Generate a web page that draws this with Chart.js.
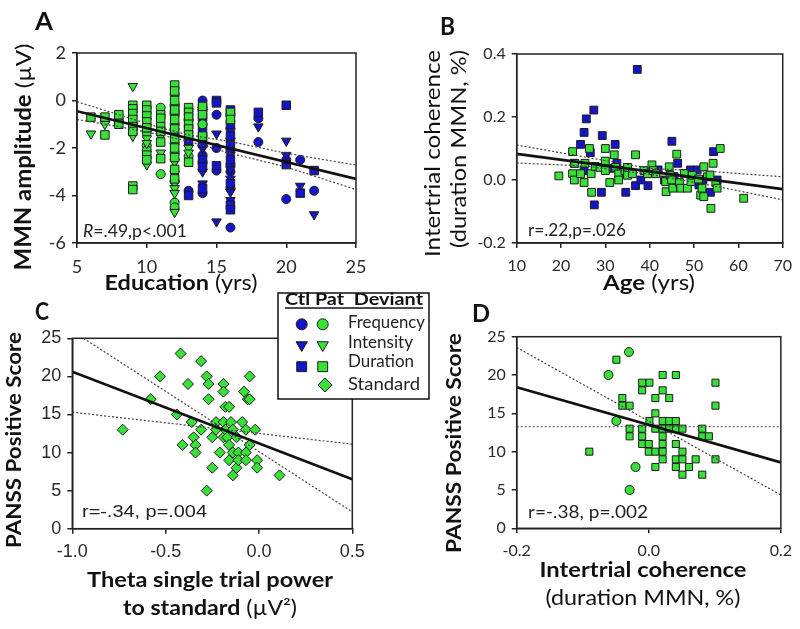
<!DOCTYPE html>
<html>
<head>
<meta charset="utf-8">
<script src="https://cdn.jsdelivr.net/npm/chart.js@4.4.1/dist/chart.umd.min.js"></script>
<style>
  body { margin: 0; background: #fff; }
  #wrap { position: relative; width: 800px; height: 629px; overflow: hidden; background: #fff; }
  canvas { position: absolute; }
</style>
</head>
<body>
<div id="wrap">
  <canvas id="cA" width="400" height="315" style="left:0;top:0"></canvas>
  <canvas id="cB" width="400" height="315" style="left:400px;top:0"></canvas>
  <canvas id="cD" width="400" height="329" style="left:400px;top:300px"></canvas>
  <canvas id="cC" width="440" height="344" style="left:0;top:285px"></canvas>
</div>
<script>
// ---- Panel A: MMN amplitude (uV) vs education (yrs), [x, y]
const aPatDur = [[6,-0.7],[7,-0.7],[7,-1.45],[8,-0.6],[8,-1.0],[9,-0.2],[9,-0.35],[9,-0.55],[9,-0.8],[9,-1.1],[9,-1.3],[9,-3.6],[9,-3.75],
  [10,-0.2],[10,-0.4],[10,-0.65],[10,-0.9],[10,-1.15],[10,-2.3],[10,-2.5],[11,-0.6],[11,-0.75],[11,-1.1],[11,-1.3],[11,-1.75],[11,-2.45],
  [12,0.65],[12,0.4],[12,0],[12,-0.4],[12,-0.8],[12,-1.2],[12,-1.6],[12,-2.0],[12,-2.4],[12,-2.9],[12,-3.3],
  [13,-0.3],[13,-0.5],[13,-0.7],[13,-1.0],[13,-1.2],[13,-1.45],[13,-2.6],[14,-0.25],[14,-0.6],[14,-1.5],[16,-0.5],[16,-0.8]];
const aPatFreq = [[7,-0.85],[8,-0.85],[9,-0.95],[9,-1.2],[10,-1.35],[10,-1.9],[10,-2.1],[11,-0.3],[11,-3.1],[12,0.25],[12,-0.2],[12,-0.6],
  [12,-1.0],[12,-1.4],[12,-1.8],[12,-2.2],[12,-4.3],[12,-4.5],[13,-2.35],[14,-1.0]];
const aPatInt = [[6,-1.4],[7,-1.0],[9,0.6],[9,-1.5],[10,-1.6],[10,-1.8],[10,-2.7],[11,-1.5],[11,-2.2],[12,-2.6],[12,-3.1],[12,-3.5],
  [12,-3.7],[12,-3.9],[12,-4.7],[13,-2.0],[13,-2.2],[14,-0.4]];
const aCtlFreq = [[12,-0.5],[12,-3.4],[13,-0.8],[13,-3.8],[14,0],[14,-1.0],[14,-1.5],[14,-1.9],[14,-2.3],[14,-2.6],[14,-3.9],[15,-0.6],[15,-2.0],
  [15,-2.95],[16,-0.6],[16,-1.2],[16,-2.1],[16,-2.7],[16,-3.0],[16,-3.7],[16,-5.35],[18,-0.75],[18,-1.75],[20,-2.5],[20,-4.15],[21,-2.5],[22,-3.8]];
const aCtlInt = [[12,-1.3],[14,-0.5],[14,-2.0],[14,-3.0],[14,-3.5],[15,-1.4],[15,-5.1],[16,-1.7],[16,-2.3],[16,-2.9],[16,-3.3],[16,-3.85],
  [16,-4.2],[18,-1.1],[20,-1.7],[20,-2.3],[21,-3.6],[22,-4.8]];
const aCtlDur = [[12,-0.3],[13,-1.7],[13,-4.0],[14,-0.3],[14,-0.7],[14,-1.25],[14,-1.8],[14,-2.5],[14,-2.8],[14,-3.7],[15,0],[15,-0.1],
  [15,-2.75],[16,-0.4],[16,-1.0],[16,-1.5],[16,-1.9],[16,-2.5],[16,-3.5],[16,-4.4],[16,-4.6],[18,-0.5],[20,-0.2],[20,-2.7],[21,-3.9],[22,-2.95]];
const aFit = [[5,-0.45],[25,-3.3]];
const aUpper = [[5,-0.05],[8,-0.6],[11,-1.15],[13,-1.45],[16,-1.73],[20,-2.22],[25,-2.72]];
const aLower = [[5,-0.8],[8,-1.1],[11,-1.45],[13,-1.72],[16,-2.22],[20,-2.8],[25,-3.75]];

// ---- Panel B: intertrial coherence vs age
const bCtl = [[37.2,0.351],[27.4,0.222],[25.7,0.194],[25.2,0.151],[24.4,0.113],[29.3,0.141],[32.2,0.113],[45.0,0.123],[54.4,0.09],
  [26.6,0.087],[23,0.053],[32.6,0.053],[46.3,0.053],[31.1,0.037],[27.5,-0.079],[29.1,-0.039],[34.6,-0.039],[36.8,-0.018],[39.6,-0.018],
  [38.0,0.0],[49.2,0.032],[50.7,0.032],[51.1,-0.016],[53.7,-0.039],[25.2,0.03],[41.9,0.032],[45.5,0.011],[43.3,0.0],[52,0.0],[55.2,0.0]];
const bPat = [[19.5,0.013],[22.6,0.09],[23.1,0.053],[22.6,0.02],[23.0,0.0],[24.4,0.02],[25.2,-0.008],[25.4,0.053],[26.4,0.1],[26.8,0.02],
  [26.9,-0.039],[27.7,0.043],[28.8,0.04],[30,0.1],[30,0.06],[30,0.03],[31,-0.008],[32,0.08],[32.3,0.04],[33,0.02],[33,0.0],[34.4,0.03],
  [35,0.04],[35,0.015],[36.1,0.02],[36.8,0.08],[38.7,0.03],[39.5,0.02],[40.5,0.048],[40.8,0.03],[41.4,0.02],[43.6,-0.005],[43.7,-0.037],
  [44.4,0.042],[44.6,0.015],[44.9,0.0],[45.2,-0.026],[46.1,0.082],[46.7,-0.008],[47,-0.026],[47.8,0.021],[48.5,-0.026],[49.3,-0.005],
  [49.6,0.015],[51,0.003],[51.5,-0.048],[51.8,-0.026],[52.2,0.042],[52.2,-0.053],[53,0.01],[53.6,0.016],[54.3,0.053],[53.8,-0.09],
  [54.9,-0.008],[55.2,-0.026],[55.9,0.1],[61.2,-0.058]];
const bFit = [[10,0.083],[70,-0.029]];
const bUpper = [[10,0.111],[25,0.074],[40,0.037],[55,0.026],[70,0.01]];
const bLower = [[10,0.054],[25,0.045],[40,0.018],[55,-0.02],[70,-0.063]];

// ---- Panel C: PANSS positive vs theta single trial power
const cPat = [[-0.73,13],[-0.58,17],[-0.53,20],[-0.44,15],[-0.42,23],[-0.41,11],[-0.38,19],[-0.36,14],[-0.35,12],[-0.34,11],[-0.34,10],
  [-0.31,22],[-0.31,13],[-0.28,20],[-0.27,19],[-0.27,17],[-0.28,5],[-0.25,12],[-0.25,8],[-0.23,14],[-0.23,13],[-0.21,10],[-0.19,12],
  [-0.19,19],[-0.19,18],[-0.18,16],[-0.19,14],[-0.18,13],[-0.17,12],[-0.16,11],[-0.16,9],[-0.16,16],[-0.15,14],[-0.14,13],[-0.14,10],
  [-0.14,7],[-0.12,8],[-0.12,12],[-0.11,10],[-0.11,9],[-0.09,14],[-0.07,13],[-0.08,18],[-0.06,17],[-0.07,10],[-0.07,9],[-0.05,20],
  [-0.05,17],[-0.05,11],[-0.02,13],[-0.01,9],[-0.01,8],[0.11,7]];
const cFit = [[-1,20.6],[0.5,6.5]];
const cBand1 = [[-0.94,25],[0.5,2.2]];
const cBand2 = [[-1,15.3],[0.5,11.1]];

// ---- Panel D: PANSS positive vs intertrial coherence
const dPatSq = [[-0.09,10],[-0.049,22],[-0.04,17],[-0.04,16],[-0.029,16],[-0.029,13],[-0.029,12],[-0.01,19],[-0.01,18],[0.001,19],
  [-0.01,13],[-0.01,12],[-0.01,11],[0.001,14],[0.0,11],[0.0,10],[0.01,17],[0.01,15],[0.01,13],[0.01,10],[0.01,8],[0.021,20],[0.021,18],
  [0.021,14],[0.021,13],[0.021,12],[0.021,11],[0.021,10],[0.021,9],[0.031,17],[0.031,14],[0.031,13],[0.041,20],[0.041,14],[0.041,13],
  [0.041,11],[0.041,9],[0.041,8],[0.051,13],[0.051,10],[0.051,9],[0.051,7],[0.061,8],[0.071,9],[0.081,13],[0.081,12],[0.081,7],
  [0.091,12],[0.101,19],[0.101,16],[0.101,9]];
const dPatRound = [[-0.061,20],[-0.03,23],[-0.049,14],[-0.02,8],[-0.029,5]];
const dFit = [[-0.2,18.4],[0.2,8.6]];
const dBand1 = [[-0.2,23.6],[0.2,4.35]];
const dBand2 = [[-0.2,13.25],[0.2,13.25]];

const SANS = 'Lato, "Open Sans", sans-serif';
const ARIAL = '"Liberation Sans", Arial, sans-serif';
const BLUE = '#1414c8';
const GREEN = '#38e038';
const EDGE = '#1c1c1c';

function pts(arr) {
  return arr.map(p => ({ x: p[0], y: p[1] }));
}

function markers(data, color, style, radius, rotation) {
  return {
    data: pts(data), showLine: false,
    pointStyle: style, pointRadius: radius, pointHoverRadius: radius, pointRotation: rotation || 0,
    backgroundColor: color, borderColor: EDGE, borderWidth: 1
  };
}

function line(data, dotted) {
  return {
    data: pts(data), showLine: true, pointRadius: 0, fill: false,
    borderColor: dotted ? '#444' : '#111', borderWidth: dotted ? 1.2 : 2.6,
    borderDash: dotted ? [2, 2] : []
  };
}

function fontOf(p, size, fam) {
  return (p.i ? 'italic ' : '') + (p.b ? 'bold ' : '') + size + 'px ' + fam;
}

// draws mixed bold/normal text; fit squeezes it to the width seen in the reference
function drawRich(ctx, it) {
  const fam = it.family || SANS;
  ctx.save();
  ctx.translate(it.x, it.y);
  if (it.rot) ctx.rotate(-Math.PI / 2);
  let total = 0;
  const ws = it.parts.map(p => {
    ctx.font = fontOf(p, it.size, fam);
    const w = ctx.measureText(p.t).width;
    total += w;
    return w;
  });
  if (it.fit) ctx.scale(it.fit / total, 1);
  let x = it.align === 'left' ? 0 : -total / 2;
  ctx.textBaseline = it.rot ? 'middle' : 'alphabetic';
  ctx.fillStyle = it.color || '#111';
  it.parts.forEach((p, i) => {
    ctx.font = fontOf(p, it.size, fam);
    ctx.fillText(p.t, x, 0);
    x += ws[i];
  });
  ctx.restore();
}

function drawLegend(ctx) {
  ctx.save();
  ctx.fillStyle = '#fff';
  ctx.fillRect(278, 8, 151, 106);
  ctx.strokeStyle = '#111';
  ctx.lineWidth = 1.5;
  ctx.strokeRect(278, 8, 151, 106);
  drawRich(ctx, { x: 285, y: 20, align: 'left', size: 17, fit: 138, parts: [{ t: 'Ctl Pat  Deviant', b: true }] });
  ctx.beginPath();
  ctx.moveTo(285, 23); ctx.lineTo(423, 23);
  ctx.lineWidth = 1.4; ctx.strokeStyle = '#111'; ctx.stroke();
  const rows = [
    { y: 39.3, style: 'circle', r: 5.5, rot: 0, label: 'Frequency', ty: 43, fit: 77, both: true },
    { y: 60, style: 'triangle', r: 6.5, rot: 180, label: 'Intensity', ty: 63, fit: 65, both: true },
    { y: 81.7, style: 'rect', r: 7, rot: 0, label: 'Duration', ty: 82, fit: 66, both: true },
    { y: 100, style: 'rectRot', r: 7, rot: 0, label: 'Standard', ty: 105, fit: 72, both: false }
  ];
  rows.forEach(r => {
    const opt = { pointStyle: r.style, radius: r.r, rotation: r.rot, borderWidth: 1 };
    ctx.strokeStyle = EDGE; ctx.lineWidth = 1;
    if (r.both) {
      ctx.fillStyle = BLUE;
      Chart.helpers.drawPoint(ctx, opt, 301.7, r.y);
    }
    ctx.fillStyle = GREEN;
    Chart.helpers.drawPoint(ctx, opt, r.both ? 322.7 : 325, r.y);
    drawRich(ctx, { x: 348, y: r.ty, align: 'left', size: 17, fit: r.fit, color: '#222', parts: [{ t: r.label }] });
  });
  ctx.restore();
}

function decorations(o) {
  return {
    id: 'decor',
    afterDraw(chart) {
      const ctx = chart.ctx;
      const a = chart.chartArea;
      ctx.save();
      ctx.strokeStyle = '#222';
      ctx.lineWidth = 1.5;
      ctx.strokeRect(a.left, a.top, a.right - a.left, a.bottom - a.top);
      ctx.restore();
      o.texts.forEach(t => drawRich(ctx, t));
      if (o.legend) drawLegend(ctx);
    }
  };
}

function fmt(v, dec) {
  if (Math.abs(v) < 1e-9) v = 0;
  return dec ? v.toFixed(dec) : String(Math.round(v));
}

function makePanel(id, o) {
  const cv = document.getElementById(id);
  const W = cv.width, H = cv.height, a = o.area;
  const tickFont = { family: o.tickFamily || SANS, size: o.tickSize };
  const grid = { drawOnChartArea: false, drawTicks: true, tickLength: 5, color: '#222', lineWidth: 1.5 };
  return new Chart(cv, {
    type: 'scatter',
    data: { datasets: o.datasets },
    options: {
      responsive: false,
      animation: false,
      events: [],
      layout: { padding: { top: a.top, right: W - a.right, left: 0, bottom: 0 } },
      plugins: { legend: { display: false }, tooltip: { enabled: false } },
      scales: {
        x: {
          type: 'linear', min: o.x[0], max: o.x[1], grid: grid,
          border: { color: '#222', width: 1.5 },
          ticks: { stepSize: o.x[2], font: tickFont, color: '#2a2a2a', padding: o.xPad, maxRotation: 0, autoSkip: false,
                   callback: v => fmt(v, o.x[3]) },
          afterFit: s => { s.height = H - a.bottom; }
        },
        y: {
          type: 'linear', min: o.y[0], max: o.y[1], grid: grid,
          border: { color: '#222', width: 1.5 },
          ticks: { stepSize: o.y[2], font: tickFont, color: '#2a2a2a', padding: o.yPad, autoSkip: false,
                   callback: v => fmt(v, o.y[3]) },
          afterFit: s => { s.width = a.left; }
        }
      }
    },
    plugins: [decorations(o)]
  });
}

makePanel('cA', {
  area: { left: 77, right: 356, top: 53, bottom: 243 },
  x: [5, 25, 5, 0], y: [-6, 2, 2, 0], tickSize: 18, xPad: 8, yPad: 6,
  datasets: [
    line(aFit, false), line(aUpper, true), line(aLower, true),
    markers(aPatDur, GREEN, 'rect', 6), markers(aPatInt, GREEN, 'triangle', 5.5, 180), markers(aPatFreq, GREEN, 'circle', 4.5),
    markers(aCtlDur, BLUE, 'rect', 6), markers(aCtlInt, BLUE, 'triangle', 5.5, 180), markers(aCtlFreq, BLUE, 'circle', 4.5)
  ],
  texts: [
    { x: 35, y: 30, align: 'left', size: 24, fit: 18, parts: [{ t: 'A', b: true }] },
    { x: 24, y: 157, rot: true, size: 22, fit: 227, parts: [{ t: 'MMN amplitude', b: true }, { t: ' (\u00b5V)' }] },
    { x: 181, y: 290, size: 21, fit: 153, parts: [{ t: 'Education', b: true }, { t: ' (yrs)' }] },
    { x: 83, y: 237, align: 'left', size: 17, fit: 104, color: '#222', parts: [{ t: 'R', i: true }, { t: '=.49,p<.001' }] }
  ]
});

makePanel('cB', {
  area: { left: 116.7, right: 386.7, top: 54, bottom: 243 },
  x: [10, 70, 10, 0], y: [-0.2, 0.4, 0.2, 1], tickSize: 16, xPad: 8, yPad: 6,
  datasets: [
    line(bFit, false), line(bUpper, true), line(bLower, true),
    markers(bPat, GREEN, 'rect', 5.5), markers(bCtl, BLUE, 'rect', 5.5)
  ],
  texts: [
    { x: 40, y: 35, align: 'left', size: 24, fit: 15, parts: [{ t: 'B', b: true }] },
    { x: 33, y: 153.5, rot: true, size: 22, fit: 207, parts: [{ t: 'Intertrial coherence' }] },
    { x: 59, y: 149, rot: true, size: 22, fit: 198, parts: [{ t: '(duration MMN, %)' }] },
    { x: 249, y: 290, size: 21, fit: 92, parts: [{ t: 'Age', b: true }, { t: ' (yrs)' }] },
    { x: 128, y: 236, align: 'left', size: 17, fit: 98, color: '#222', parts: [{ t: 'r=.22,p=.026' }] }
  ]
});

makePanel('cD', {
  area: { left: 116.7, right: 386.7, top: 36.7, bottom: 228.3 },
  x: [-0.2, 0.2, 0.2, 1], y: [0, 25, 5, 0], tickSize: 16, xPad: 8, yPad: 6,
  datasets: [
    line(dFit, false), line(dBand1, true), line(dBand2, true),
    markers(dPatRound, GREEN, 'circle', 4.5), markers(dPatSq, GREEN, 'rect', 5)
  ],
  texts: [
    { x: 72, y: 22, align: 'left', size: 24, fit: 18, parts: [{ t: 'D', b: true }] },
    { x: 54, y: 143, rot: true, size: 21, fit: 220, parts: [{ t: 'PANSS Positive Score', b: true }] },
    { x: 243, y: 277, size: 21, fit: 207, parts: [{ t: 'Intertrial coherence', b: true }] },
    { x: 243, y: 305, size: 21, fit: 195, parts: [{ t: '(duration MMN, %)' }] },
    { x: 128, y: 218, align: 'left', size: 17, fit: 120, color: '#222', parts: [{ t: 'r=-.38, p=.002' }] }
  ]
});

makePanel('cC', {
  area: { left: 72.3, right: 352.3, top: 53.3, bottom: 243.7 },
  x: [-1, 0.5, 0.5, 1], y: [0, 25, 5, 0], tickSize: 18, tickFamily: ARIAL, xPad: 8, yPad: 6,
  datasets: [
    line(cFit, false), line(cBand1, true), line(cBand2, true),
    markers(cPat, GREEN, 'rectRot', 5.5)
  ],
  texts: [
    { x: 35, y: 35, align: 'left', size: 24, fit: 14, parts: [{ t: 'C', b: true }] },
    { x: 14, y: 155, rot: true, size: 21, fit: 216, parts: [{ t: 'PANSS Positive Score', b: true }] },
    { x: 210, y: 302, size: 21, fit: 246, parts: [{ t: 'Theta single trial power', b: true }] },
    { x: 210, y: 330, size: 21, fit: 174, parts: [{ t: 'to standard', b: true }, { t: ' (\u00b5V\u00b2)' }] },
    { x: 82, y: 232, align: 'left', size: 17, fit: 125, color: '#222', family: ARIAL, parts: [{ t: 'r=-.34, p=.004' }] }
  ],
  legend: true
});
</script>
</body>
</html>
